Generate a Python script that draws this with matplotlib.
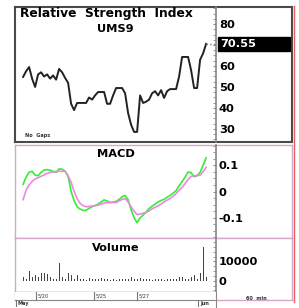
import numpy as np
import matplotlib
matplotlib.use('Agg')
import matplotlib.pyplot as plt
from matplotlib.patches import Rectangle
from matplotlib.lines import Line2D
from matplotlib.transforms import blended_transform_factory

plt.rcParams['font.family'] = ['DejaVu Sans']

# hourly bars, 23 May .. 1 Jun
rsi = [54.8, 57.5, 59.5, 54, 50, 56, 57, 55, 56, 54, 55.5, 53.5, 58.6, 57, 54.3, 52,
       42, 39, 42.4, 42.4, 42.4, 42.4, 45, 44, 46, 47.6, 47.6, 47.6, 42, 42, 46, 49.5,
       49.5, 49.5, 47, 37.6, 32, 28.6, 28.6, 46, 42.4, 43, 44, 47, 48, 46, 48.5, 44.8,
       48, 49, 49, 49, 55, 64.3, 64.3, 64.3, 58, 49.5, 49.5, 63, 66, 70.55]
macd = [0.027, 0.055, 0.073, 0.077, 0.062, 0.06, 0.073, 0.082, 0.083, 0.081, 0.077,
        0.073, 0.086, 0.085, 0.077, 0.058, 0.0, -0.035, -0.058, -0.067, -0.072, -0.072,
        -0.064, -0.058, -0.053, -0.048, -0.04, -0.032, -0.036, -0.042, -0.04, -0.038,
        -0.03, -0.02, -0.015, -0.031, -0.07, -0.1, -0.119, -0.1, -0.09, -0.078, -0.065,
        -0.056, -0.048, -0.04, -0.034, -0.03, -0.022, -0.015, -0.006, 0.003, 0.022,
        0.038, 0.055, 0.074, 0.072, 0.056, 0.06, 0.073, 0.1, 0.128]
signal = [-0.031, 0.005, 0.025, 0.038, 0.048, 0.052, 0.058, 0.063, 0.069, 0.073, 0.074,
          0.076, 0.077, 0.077, 0.077, 0.06, 0.035, 0.0, -0.027, -0.045, -0.054, -0.058,
          -0.057, -0.055, -0.054, -0.052, -0.048, -0.044, -0.042, -0.042, -0.042, -0.042,
          -0.036, -0.03, -0.027, -0.04, -0.058, -0.075, -0.088, -0.086, -0.083, -0.08,
          -0.074, -0.066, -0.06, -0.055, -0.048, -0.04, -0.033, -0.027, -0.018, -0.008,
          0.005, 0.015, 0.03, 0.045, 0.058, 0.06, 0.061, 0.062, 0.075, 0.092]
volume = [2000, 800, 4800, 2000, 2900, 2000, 4200, 4200, 3300, 2000, 1100, 700, 9400,
          2000, 1100, 4200, 2900, 1100, 2900, 700, 1100, 600, 1500, 900, 1100, 700, 1300,
          800, 1100, 600, 900, 500, 800, 700, 1000, 800, 2000, 700, 1100, 1500, 900, 700,
          1000, 600, 900, 700, 1100, 600, 1000, 800, 1100, 700, 2000, 2000, 900, 1100,
          2000, 2900, 800, 3900, 17500, 2000]
day_ticks = [4.3, 23.7, 38]
day_labels = ['5/20', '5/25', '5/27']
month_ticks = [-2.5, 58.3]
month_labels = ['May', 'Jun']
rsi_ticks = [30, 40, 50, 60, 70, 80]
rsi_labels = ['30', '40', '50', '60', '', '80']
macd_ticks = [-0.1, 0, 0.1]
macd_labels = ['-0.1', '0', '0.1']
vol_ticks = [0, 10000]
vol_labels = ['0', '10000']

x = np.arange(len(rsi))
W, H = 299, 308
fig = plt.figure(figsize=(W / 100, H / 100), dpi=100)
FS = 8.2


def box(x0, y0, x1, y1):
    return [x0 / W, 1 - y1 / H, (x1 - x0) / W, (y1 - y0) / H]


def frame(y0, y1, color, lw):
    fa = fig.add_axes(box(15, y0, 292, y1))
    fa.set_xticks([])
    fa.set_yticks([])
    for s in fa.spines.values():
        s.set_color(color)
        s.set_linewidth(lw)
    return fa


def panel(y0, y1):
    ax = fig.add_axes(box(15, y0, 216, y1))
    ax.patch.set_alpha(0)
    for s in ['top', 'bottom', 'left']:
        ax.spines[s].set_visible(False)
    ax.spines['right'].set_color('#888888')
    ax.spines['right'].set_linewidth(1.2)
    ax.yaxis.tick_right()
    ax.tick_params(axis='y', which='both', direction='in', length=2, color='#888888',
                   pad=2)
    ax.tick_params(axis='x', bottom=False, labelbottom=False)
    ax.set_xlim(-2.7, 64.3)
    return ax


lbl = dict(fontsize=FS, fontweight='bold', color='black')

# RSI panel
frame(7, 142, '#4a4a4a', 1.5)
ax1 = panel(7, 142)
ax1.plot(x, rsi, color='#222222', lw=1.4)
ax1.plot([x[-1], 64.3], [rsi[-1], rsi[-1]], ':', color='#777777', lw=1)
ax1.set_ylim(23.8, 88.1)
ax1.set_yticks(rsi_ticks)
ax1.set_yticklabels(rsi_labels, fontweight='bold', fontsize=FS)
ax1.set_yticks(np.arange(25, 88, 2.5), minor=True)
tr = blended_transform_factory(ax1.transAxes, ax1.transData)
ax1.add_patch(Rectangle((1.01, rsi[-1] - 3.3), 0.36, 6.6, transform=tr,
                        color='black', clip_on=False))
ax1.text(1.02, rsi[-1], f'{rsi[-1]:.2f}', transform=tr, color='white', va='center',
         ha='left', fontsize=FS, fontweight='bold')
ax1.text(0.025, 0.95, 'Relative  Strength  Index', transform=ax1.transAxes,
         ha='left', va='center', fontsize=8.8, fontweight='bold', color='black')
ax1.text(0.5, 0.84, 'UMS9', transform=ax1.transAxes, ha='center', va='center', **lbl)
ax1.text(0.05, 0.03, 'No  Gaps', transform=ax1.transAxes, fontsize=3.6,
         fontweight='bold', color='#333333', va='bottom')

# MACD panel
frame(145, 238, '#d4a8cc', 1)
ax2 = panel(145, 238)
ax2.plot(x, macd, color='#33ee33', lw=1.2)
ax2.plot(x, signal, color='#ee88dd', lw=1.2)
ax2.set_ylim(-0.177, 0.177)
ax2.set_yticks(macd_ticks)
ax2.set_yticklabels(macd_labels, fontweight='bold', fontsize=FS)
ax2.set_yticks(np.arange(-0.175, 0.18, 0.025), minor=True)
ax2.text(0.5, 0.9, 'MACD', transform=ax2.transAxes, ha='center', va='center', **lbl)

# Volume panel
frame(238, 300, '#d4a8cc', 1)
ax3 = panel(238, 292)
ax3.bar(x, volume, width=0.35, color='#444444')
ax3.set_ylim(-5800, 22100)
ax3.set_yticks(vol_ticks)
ax3.set_yticklabels(vol_labels, fontweight='bold', fontsize=FS)
ax3.set_yticks(np.arange(-5000, 22000, 2500), minor=True)
ax3.text(0.5, 0.82, 'Volume', transform=ax3.transAxes, ha='center', va='center', **lbl)
ax3.axhline(-5800, color='#888888', lw=1)
ax3.text(1.15, -0.12, '60  min', transform=ax3.transAxes, fontsize=3.6,
         fontweight='bold', color='#333333', va='center')

# date strip
ax4 = fig.add_axes(box(15, 292, 216, 307))
ax4.set_xlim(-2.7, 64.3)
ax4.set_ylim(0, 2)
ax4.set_xticks([])
ax4.set_yticks([])
for s in ['top', 'left', 'bottom']:
    ax4.spines[s].set_visible(False)
ax4.spines['right'].set_color('#888888')
ax4.axhline(1, color='#888888', lw=0.8)
for t, s in zip(day_ticks, day_labels):
    ax4.plot([t, t], [1, 2], color='#777777', lw=0.8)
    ax4.text(t + 0.6, 1.45, s, fontsize=3.6, color='#333333', va='center')
for t, s in zip(month_ticks, month_labels):
    ax4.plot([t, t], [0, 1], color='#777777', lw=0.8)
    ax4.text(t + 0.6, 0.5, s, fontsize=3.6, fontweight='bold', color='#333333',
             va='center')

# red right edge
fig.add_artist(Line2D([293.5 / W, 293.5 / W], [1 - 302 / H, 1 - 6 / H],
                      color='#e86060', lw=1, transform=fig.transFigure))

fig.savefig('out.png', dpi=100, facecolor='white')
